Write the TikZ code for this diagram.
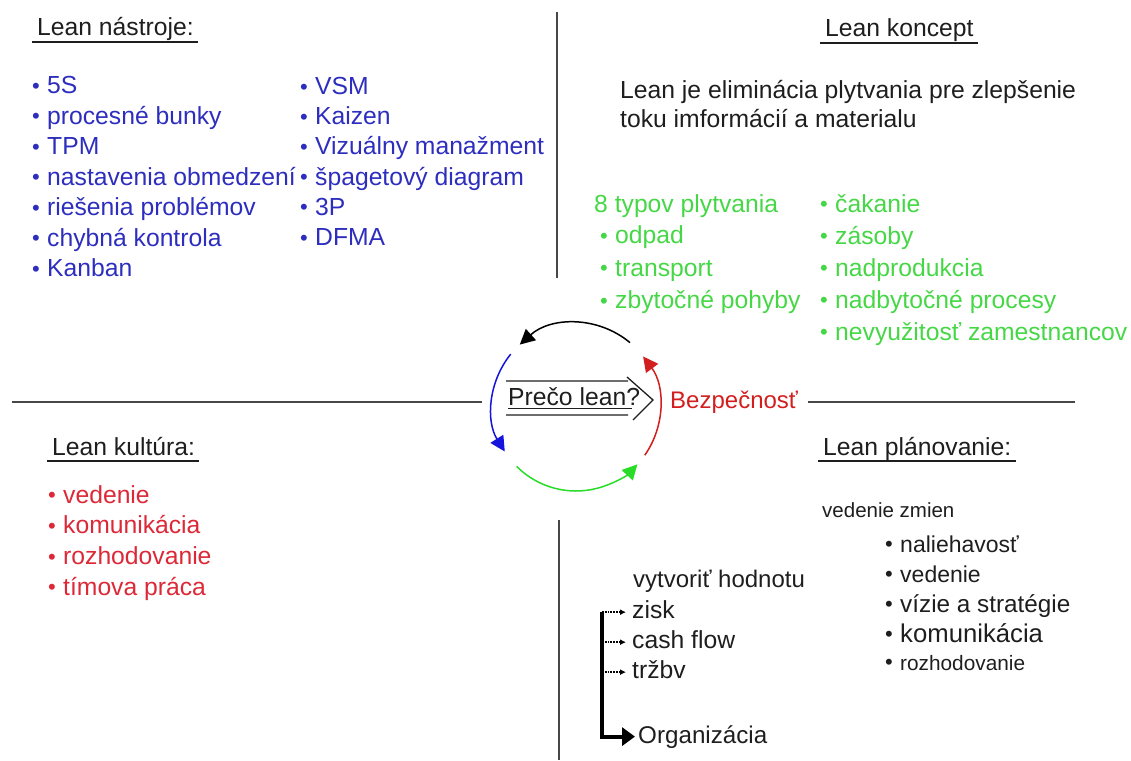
\documentclass[tikz,border=0pt]{standalone}
\usepackage{fontspec}
\setmainfont{Liberation Sans}
\usetikzlibrary{arrows.meta}
\definecolor{tgray}{RGB}{30,30,30}
\definecolor{tblue}{RGB}{45,45,190}
\definecolor{tgreen}{RGB}{70,215,70}
\definecolor{tred}{RGB}{220,40,55}
\definecolor{cblue}{RGB}{20,20,220}
\definecolor{cgreen}{RGB}{40,220,40}
\definecolor{cred}{RGB}{210,30,30}
\newcommand\bul{\makebox[14pt][l]{\hspace{-1pt}\raisebox{0.5pt}{\fontsize{22}{22}\selectfont •}}}
\newcommand\fsz[1]{\fontsize{#1}{#1}\selectfont}
\begin{document}
\begin{tikzpicture}[x=1pt,y=-1pt,
  txt/.style={anchor=base west,inner sep=0pt,text=tgray,font=\fsz{24.7}},
  rule/.style={line width=1.6pt,black!72},
  uline/.style={line width=1.6pt,tgray},
  frame/.style={line width=1.3pt,tgray},
  cyc/.style={line width=1.5pt,-{Triangle[length=15pt,width=15pt]}},
  bracket/.style={line width=3.8pt,-{Triangle[length=13pt,width=18pt]}},
  stub/.style={line width=1.8pt,densely dotted,-{Latex[length=6pt,width=6pt]}}]
\useasboundingbox (0,0) rectangle (1131,760);
\draw[rule] (557,12) -- (557,278);
\draw[rule] (559,520) -- (559,760);
\draw[rule] (12,402) -- (482,402);
\draw[rule] (808,402) -- (1075,402);

% headings
\node[txt] (nastroje) at (37,36) {Lean nástroje:};
\node[txt] (koncept) at (825,37) {Lean koncept};
\node[txt] (kultura) at (52,455) {Lean kultúra:};
\node[txt] (planovanie) at (823,455) {Lean plánovanie:};
\foreach \n in {nastroje,koncept,kultura,planovanie}
  \draw[uline] ([xshift=-5pt,yshift=-6pt]\n.base west) -- ([xshift=4pt,yshift=-6pt]\n.base east);

% lean nastroje
\foreach \t [count=\i] in {5S,procesné bunky,TPM,nastavenia obmedzení,riešenia problémov,chybná kontrola,Kanban}
  \node[txt,text=tblue] (toolA\i) at (33,{93.5+30.5*(\i-1)}) {\bul\t};
\foreach \t [count=\i] in {VSM,Kaizen,Vizuálny manažment,špagetový diagram,3P,DFMA}
  \node[txt,text=tblue] (toolB\i) at (301,{94.5+30.2*(\i-1)}) {\bul\t};

% lean koncept
\node[txt] (def1) at (620,98) {Lean je eliminácia plytvania pre zlepšenie};
\node[txt] (def2) at (620,127) {toku imformácií a materialu};
\node[txt,text=tgreen] (typy) at (594,212) {8 typov plytvania};
\foreach \t [count=\i] in {odpad,transport,zbytočné pohyby}
  \node[txt,text=tgreen] (wasteA\i) at (601,{243.5+32.5*(\i-1)}) {\bul\t};
\foreach \t [count=\i] in {čakanie,zásoby,nadprodukcia,nadbytočné procesy,nevyužitosť zamestnancov}
  \node[txt,text=tgreen] (wasteB\i) at (821,{212+32*(\i-1)}) {\bul\t};

% lean kultura
\foreach \t [count=\i] in {vedenie,komunikácia,rozhodovanie,tímova práca}
  \node[txt,text=tred] (kult\i) at (49,{503+30.8*(\i-1)}) {\bul\t};

% lean planovanie
\node[txt,font=\fsz{20.5}] (zmeny) at (822,517) {vedenie zmien};
\node[txt,font=\fsz{23}] (plan1) at (886,552) {\bul naliehavosť};
\node[txt,font=\fsz{23}] (plan2) at (886,582) {\bul vedenie};
\node[txt,font=\fsz{24.3}] (plan3) at (886,612) {\bul vízie a stratégie};
\node[txt,font=\fsz{25.7}] (plan4) at (886,642) {\bul komunikácia};
\node[txt,font=\fsz{20.8}] (plan5) at (886,670) {\bul rozhodovanie};

% hodnota
\node[txt,font=\fsz{24}] (hodnota) at (633,587) {vytvoriť hodnotu};
\node[txt] (zisk) at (632,618) {zisk};
\node[txt] (cash) at (632,648) {cash flow};
\node[txt] (trzby) at (632,678) {tržbv};
\node[txt,font=\fsz{24.2}] (org) at (638,743) {Organizácia};
\coordinate (brtop) at ([xshift=-30pt,yshift=-3pt]zisk.west);
\draw[bracket] (brtop) |- ([xshift=-3pt]org.west);
\foreach \n in {zisk,cash,trzby}
  \draw[stub] ([xshift=-30pt,yshift=-3pt]\n.west) -- ([xshift=-6pt,yshift=-3pt]\n.west);

% preco lean
\node[txt] (preco) at (508,405) {Prečo lean?};
\node[txt,text=cred,font=\fsz{24}] (bezp) at (670,408) {Bezpečnosť};
\draw[uline,line width=1.2pt] (508,408.5) -- (632,408.5);
\draw[frame] (506,381) -- (628,381) (627,377) -- (653,400) -- (633,420) (506,415) -- (628,415);
\coordinate (c) at (576,407);
\draw[cyc,black] (c) ++(-50:84) arc[start angle=-50,end angle=-132,radius=84];
\draw[cyc,cblue] (c) ++(-141:84) arc[start angle=-141,end angle=-212,radius=84];
\draw[cyc,cgreen] (c) ++(-225:84) arc[start angle=-225,end angle=-317,radius=84];
\draw[cyc,cred] (c) ++(-325:84) arc[start angle=-325,end angle=-397,radius=84];
\end{tikzpicture}
\end{document}
